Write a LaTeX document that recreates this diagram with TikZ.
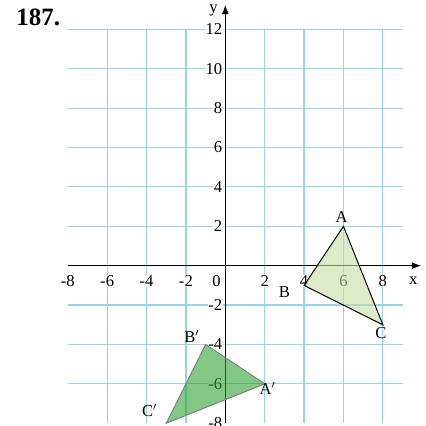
\documentclass[tikz,border=0pt]{standalone}
\usepackage{fontspec}
\setmainfont{Liberation Serif}
\usetikzlibrary{arrows.meta, positioning}
\definecolor{gridblue}{RGB}{150,210,236}
\definecolor{palegreen}{RGB}{197,222,163}
\definecolor{deepgreen}{RGB}{47,163,47}

\begin{document}
\begin{tikzpicture}[x=0.5cm, y=0.5cm, font=\fontsize{12}{14}\selectfont,
  ticklbl/.style={fill=white, inner sep=0.6pt},
  vertexlbl/.style={inner sep=0pt}]
\useasboundingbox (-11.44,-8.14) rectangle (10.14,13.49);
% title
\node[font=\fontsize{18}{20}\selectfont\bfseries] (title) at (-9.5,12.6) {187.};
% grid
\draw[gridblue, line width=0.85pt] (-8,-8) grid (9,12);
% tick labels
\foreach \x in {-8,-6,-4,-2,2,4,6,8}
  \node[ticklbl] (xlbl\x) at (\x,-0.78) {\x};
\node[ticklbl] (xlbl0) at (-0.45,-0.78) {0};
\foreach \y in {-8,-6,-4,-2,2,4,6,8,10,12}
  \node[ticklbl, anchor=east] (ylbl\y) at (-0.1,\y) {\y};
% axes
\coordinate (xstart) at (-8,0);
\coordinate (xend) at (9.95,0);
\coordinate (ystart) at (0,-8);
\coordinate (yend) at (0,13.25);
\draw[line width=0.9pt, -{Latex[length=2.4mm, width=1.8mm]}] (xstart) -- (xend);
\draw[line width=0.9pt, -{Latex[length=2.4mm, width=1.8mm]}] (ystart) -- (yend);
\node (xname) at (9.55,-0.78) {x};
\node (yname) at (-0.6,12.95) {y};
% ABC
\coordinate (A) at (6,2);
\coordinate (B) at (4,-1);
\coordinate (C) at (8,-3);
\draw[line width=0.7pt, fill=palegreen, fill opacity=0.6] (A) -- (B) -- (C) -- cycle;
\node[vertexlbl] (Albl) at (5.9,2.45) {A};
\node[vertexlbl] (Blbl) at (3.0,-1.35) {B};
\node[vertexlbl] (Clbl) at (7.9,-3.4) {C};
% A'B'C'
\coordinate (A1) at (2,-6);
\coordinate (B1) at (-1,-4);
\coordinate (C1) at (-3,-8);
\draw[line width=0.7pt, draw=gray, fill=deepgreen, fill opacity=0.6] (A1) -- (B1) -- (C1) -- cycle;
\node[vertexlbl] (A1lbl) at (2.15,-6.25) {A$'$};
\node[vertexlbl] (B1lbl) at (-1.7,-3.57) {B$'$};
\node[vertexlbl] (C1lbl) at (-3.85,-7.37) {C$'$};
\end{tikzpicture}
\end{document}
